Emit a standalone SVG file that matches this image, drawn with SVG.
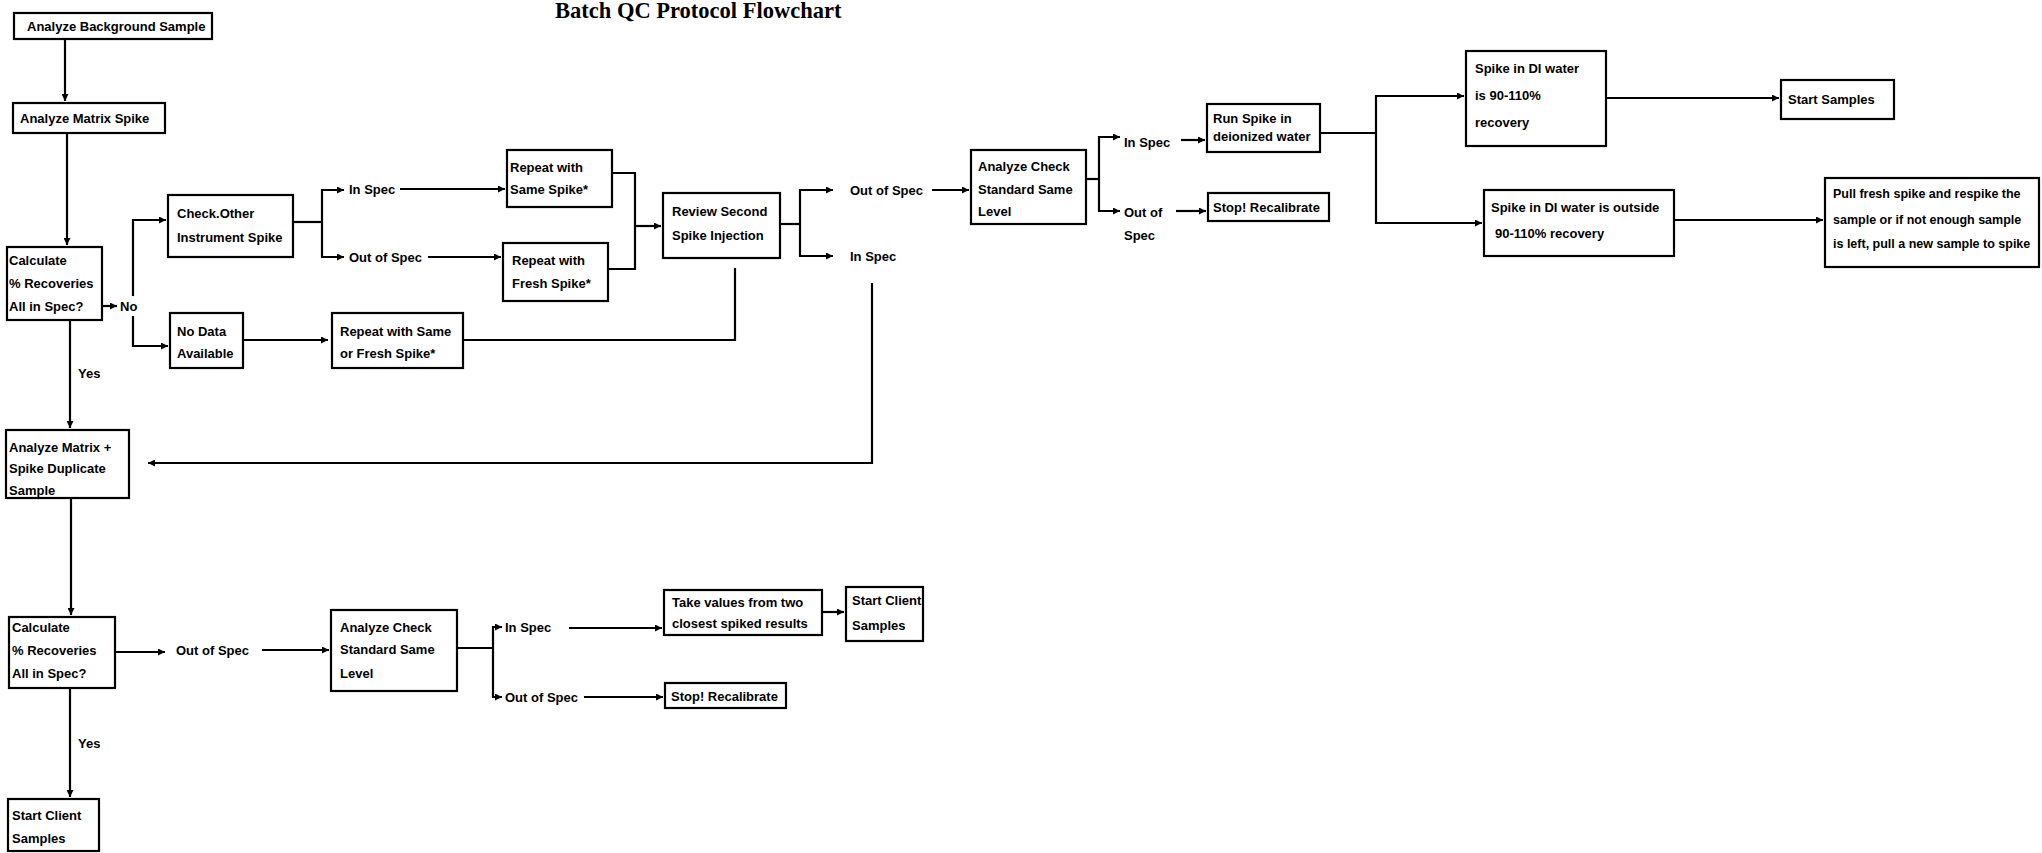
<svg xmlns="http://www.w3.org/2000/svg" width="2042" height="853" viewBox="0 0 2042 853">
<style>
.bg{fill:#ffffff}
.box{fill:#ffffff;stroke:#000000;stroke-width:2.2}
.t{font-family:"Liberation Sans",Arial,sans-serif;font-weight:bold;font-size:13px;fill:#000000}
.ts{font-family:"Liberation Sans",Arial,sans-serif;font-weight:bold;font-size:12.5px;fill:#000000}
.title{font-family:"Liberation Serif","Times New Roman",serif;font-weight:bold;font-size:22.5px;fill:#000000}
.c{fill:none;stroke:#000000;stroke-width:2.2}
.a{fill:none;stroke:#000000;stroke-width:2.2;marker-end:url(#arr)}
</style>
<defs>
<marker id="arr" markerUnits="userSpaceOnUse" markerWidth="8" markerHeight="7" refX="7" refY="3.5" orient="auto">
<path d="M0,0 L7,3.5 L0,7 z" fill="#000000"/>
</marker>
</defs>
<rect class="bg" x="0" y="0" width="2042" height="853"/>
<text class="title" x="555" y="18">Batch QC Protocol Flowchart</text>

<g id="connectors">
<path class="a" d="M65,39 V101"/>
<path class="a" d="M67,133 V245"/>
<path class="a" d="M102,306 H117"/>
<path class="a" d="M133,296 V220 H166"/>
<path class="a" d="M133,316 V346 H168"/>
<path class="c" d="M293,222 H322"/>
<path class="a" d="M322,222 V190 H344"/>
<path class="a" d="M322,222 V257 H344"/>
<path class="a" d="M400,189 H505"/>
<path class="a" d="M428,257 H501"/>
<path class="c" d="M612,173 H635 V269 H608"/>
<path class="a" d="M635,226 H661"/>
<path class="a" d="M243,340 H328"/>
<path class="c" d="M463,340 H735 V268"/>
<path class="c" d="M780,224 H800"/>
<path class="a" d="M800,224 V190 H833"/>
<path class="a" d="M800,224 V256 H833"/>
<path class="a" d="M932,190 H969"/>
<path class="a" d="M872,283 V463 H148"/>
<path class="c" d="M1086,179 H1099"/>
<path class="a" d="M1099,179 V137 H1120"/>
<path class="a" d="M1099,179 V211 H1120"/>
<path class="a" d="M1181,140 H1205"/>
<path class="a" d="M1176,211 H1206"/>
<path class="c" d="M1320,133 H1376"/>
<path class="a" d="M1376,133 V96 H1464"/>
<path class="a" d="M1376,133 V223 H1482"/>
<path class="a" d="M1606,98 H1779"/>
<path class="a" d="M1674,220 H1823"/>
<path class="a" d="M70,320 V428"/>
<path class="a" d="M71,498 V615"/>
<path class="a" d="M115,652 H165"/>
<path class="a" d="M262,650 H329"/>
<path class="c" d="M457,648 H493"/>
<path class="a" d="M493,648 V627 H502"/>
<path class="a" d="M493,648 V697 H502"/>
<path class="a" d="M569,628 H662"/>
<path class="a" d="M822,612 H844"/>
<path class="a" d="M584,697 H663"/>
<path class="a" d="M70,688 V797"/>
</g>

<g id="labels">
<text class="t" x="120" y="310.5">No</text>
<text class="t" x="78" y="377.5">Yes</text>
<text class="t" x="349" y="194">In Spec</text>
<text class="t" x="349" y="261.5">Out of Spec</text>
<text class="t" x="850" y="194.5">Out of Spec</text>
<text class="t" x="850" y="261">In Spec</text>
<text class="t" x="1124" y="146.5">In Spec</text>
<text class="t" x="1124" y="216.5">Out of</text>
<text class="t" x="1124" y="239.5">Spec</text>
<text class="t" x="78" y="747.5">Yes</text>
<text class="t" x="176" y="654.5">Out of Spec</text>
<text class="t" x="505" y="631.5">In Spec</text>
<text class="t" x="505" y="701.5">Out of Spec</text>
</g>

<g id="n_bg"><rect class="box" x="14" y="13" width="198" height="26"/><text class="t" x="27" y="30.5">Analyze Background Sample</text></g>
<g id="n_ms"><rect class="box" x="13" y="103" width="152" height="30"/><text class="t" x="20" y="122.5">Analyze Matrix Spike</text></g>
<g id="n_calc1"><rect class="box" x="7" y="247" width="95" height="73"/><text class="t" x="9" y="264.5">Calculate</text><text class="t" x="9" y="287.5">% Recoveries</text><text class="t" x="9" y="310.5">All in Spec?</text></g>
<g id="n_check"><rect class="box" x="168" y="195" width="125" height="62"/><text class="t" x="177" y="217.5">Check.Other</text><text class="t" x="177" y="241.5">Instrument Spike</text></g>
<g id="n_nodata"><rect class="box" x="170" y="313" width="73" height="55"/><text class="t" x="177" y="335.5">No Data</text><text class="t" x="177" y="357.5">Available</text></g>
<g id="n_repeat"><rect class="box" x="332" y="313" width="131" height="55"/><text class="t" x="340" y="335.5">Repeat with Same</text><text class="t" x="340" y="357.5">or Fresh Spike*</text></g>
<g id="n_rsame"><rect class="box" x="507" y="150" width="105" height="57"/><text class="t" x="510" y="171.5">Repeat with</text><text class="t" x="510" y="193.5">Same Spike*</text></g>
<g id="n_rfresh"><rect class="box" x="503" y="243" width="105" height="58"/><text class="t" x="512" y="264.5">Repeat with</text><text class="t" x="512" y="287.5">Fresh Spike*</text></g>
<g id="n_review"><rect class="box" x="663" y="193" width="117" height="65"/><text class="t" x="672" y="215.5">Review Second</text><text class="t" x="672" y="239.5">Spike Injection</text></g>
<g id="n_acs1"><rect class="box" x="971" y="150" width="115" height="74"/><text class="t" x="978" y="170.5">Analyze Check</text><text class="t" x="978" y="193.5">Standard Same</text><text class="t" x="978" y="215.5">Level</text></g>
<g id="n_runspike"><rect class="box" x="1207" y="104" width="113" height="48"/><text class="t" x="1213" y="122.5">Run Spike in</text><text class="t" x="1213" y="140.5">deionized water</text></g>
<g id="n_stop1"><rect class="box" x="1208" y="193" width="121" height="28"/><text class="t" x="1213" y="211.5">Stop! Recalibrate</text></g>
<g id="n_di_ok"><rect class="box" x="1466" y="51" width="140" height="95"/><text class="t" x="1475" y="72.5">Spike in DI water</text><text class="t" x="1475" y="99.5">is 90-110%</text><text class="t" x="1475" y="126.5">recovery</text></g>
<g id="n_start"><rect class="box" x="1781" y="80" width="113" height="39"/><text class="t" x="1788" y="103.5">Start Samples</text></g>
<g id="n_di_bad"><rect class="box" x="1484" y="190" width="190" height="66"/><text class="t" x="1491" y="211.5">Spike in DI water is outside</text><text class="t" x="1495" y="237.5">90-110% recovery</text></g>
<g id="n_pull"><rect class="box" x="1825" y="178" width="214" height="89"/><text class="ts" x="1833" y="197.5">Pull fresh spike and respike the</text><text class="ts" x="1833" y="223.5">sample or if not enough sample</text><text class="ts" x="1833" y="247.5">is left, pull a new sample to spike</text></g>
<g id="n_amsd"><rect class="box" x="6" y="430" width="123" height="68"/><text class="t" x="9" y="451.5">Analyze Matrix +</text><text class="t" x="9" y="472.5">Spike Duplicate</text><text class="t" x="9" y="494.5">Sample</text></g>
<g id="n_calc2"><rect class="box" x="9" y="617" width="106" height="71"/><text class="t" x="12" y="631.5">Calculate</text><text class="t" x="12" y="654.5">% Recoveries</text><text class="t" x="12" y="677.5">All in Spec?</text></g>
<g id="n_acs2"><rect class="box" x="331" y="610" width="126" height="81"/><text class="t" x="340" y="631.5">Analyze Check</text><text class="t" x="340" y="653.5">Standard Same</text><text class="t" x="340" y="677.5">Level</text></g>
<g id="n_take"><rect class="box" x="664" y="590" width="158" height="45"/><text class="t" x="672" y="606.5">Take values from two</text><text class="t" x="672" y="627.5">closest spiked results</text></g>
<g id="n_client2"><rect class="box" x="846" y="587" width="77" height="54"/><text class="t" x="852" y="604.5">Start Client</text><text class="t" x="852" y="629.5">Samples</text></g>
<g id="n_stop2"><rect class="box" x="665" y="683" width="121" height="25"/><text class="t" x="671" y="700.5">Stop! Recalibrate</text></g>
<g id="n_client1"><rect class="box" x="8" y="799" width="91" height="52"/><text class="t" x="12" y="819.5">Start Client</text><text class="t" x="12" y="842.5">Samples</text></g>
</svg>
